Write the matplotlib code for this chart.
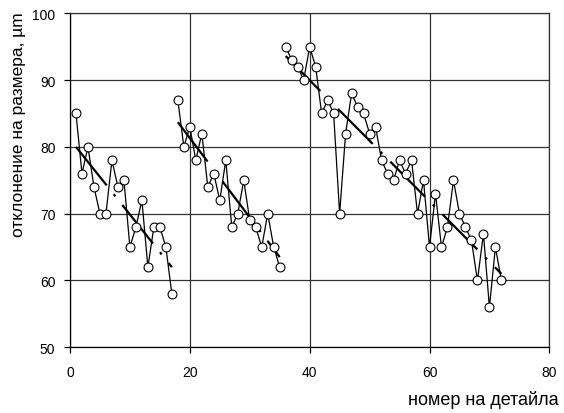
import matplotlib
matplotlib.use('Agg')
from matplotlib import pyplot as plt

# measured deviations, three groups of parts
part_a = [1, 2, 3, 4, 5, 6, 7, 8, 9, 10, 11, 12, 13, 14, 15, 16, 17]
dev_a = [85, 76, 80, 74, 70, 70, 78, 74, 75, 65, 68, 72, 62, 68, 68, 65, 58]

part_b = [18, 19, 20, 21, 22, 23, 24, 25, 26, 27, 28, 29, 30, 31, 32, 33, 34, 35]
dev_b = [87, 80, 83, 78, 82, 74, 76, 72, 78, 68, 70, 75, 69, 68, 65, 70, 65, 62]

part_c = [36, 37, 38, 39, 40, 41, 42, 43, 44, 45, 46, 47, 48, 49, 50, 51, 52, 53, 54,
          55, 56, 57, 58, 59, 60, 61, 62, 63, 64, 65, 66, 67, 68, 69, 70, 71, 72]
dev_c = [95, 93, 92, 90, 95, 92, 85, 87, 85, 70, 82, 88, 86, 85, 82, 83, 78, 76, 75,
         78, 76, 78, 70, 75, 65, 73, 65, 68, 75, 70, 68, 66, 60, 67, 56, 65, 60]

# trend line end points for each group
trend_x = [[1, 17], [18, 35], [36, 72]]
trend_y = [[80, 62], [83.7, 63.5], [93.6, 61.0]]

x_ticks = [0, 20, 40, 60, 80]
y_ticks = [50, 60, 70, 80, 90, 100]

plt.rcParams['font.family'] = ['Liberation Sans', 'DejaVu Sans']
plt.rcParams['lines.scale_dashes'] = False

fig = plt.figure(figsize=(5.64, 4.14), dpi=100)
ax = fig.add_axes([0.1241, 0.1587, 0.974 - 0.1241, 0.9655 - 0.1587])

grid_color = '#333333'

# data series
for xs, ys in [(part_a, dev_a), (part_b, dev_b), (part_c, dev_c)]:
    ax.plot(xs, ys, color='black', lw=0.9, marker='o', ms=6.4,
            mfc='white', mec='black', mew=0.8, zorder=3)

# trend lines (long dash - dot), drawn under the markers
for tx, ty in zip(trend_x, trend_y):
    ax.plot(tx, ty, color='black', lw=1.6, zorder=2.5,
            linestyle=(0, (35.5, 8.0, 2.0, 8.0)), dash_capstyle='butt')

ax.set_xlim(0, 80)
ax.set_ylim(50, 100)
ax.set_xticks(x_ticks)
ax.set_yticks(y_ticks)
ax.grid(True, color=grid_color, lw=0.9)
ax.set_axisbelow(True)

ax.tick_params(axis='both', direction='out', length=4, width=0.9,
               color='black', labelsize=10, labelcolor='black')
ax.tick_params(axis='y', pad=6.5)
ax.tick_params(axis='x', pad=9)

for spine in ['left', 'bottom']:
    ax.spines[spine].set_color('black')
    ax.spines[spine].set_linewidth(0.9)
for spine in ['top', 'right']:
    ax.spines[spine].set_color(grid_color)
    ax.spines[spine].set_linewidth(0.9)

# axis titles
fig.text(22.7 / 564, 1 - 124.5 / 414, 'отклонение на размера, µm',
         rotation=90, rotation_mode='anchor', ha='center', va='baseline',
         fontsize=12.5)
fig.text(559 / 564, 1 - 405 / 414, 'номер на детайла',
         ha='right', va='baseline', fontsize=13)

fig.savefig('out.png', dpi=100)
